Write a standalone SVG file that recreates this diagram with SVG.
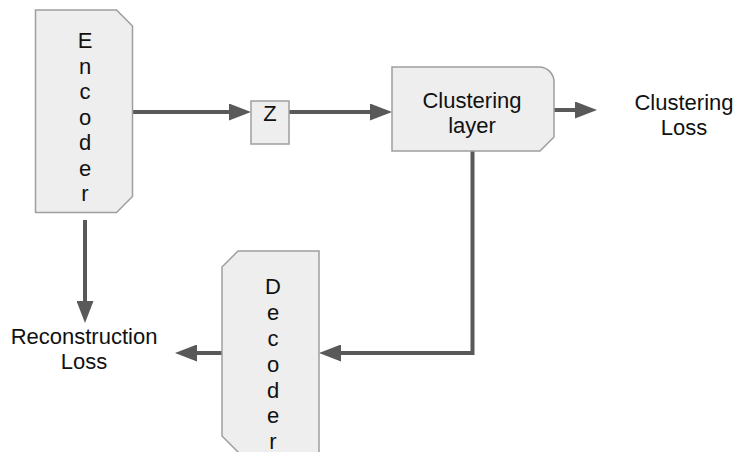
<svg xmlns="http://www.w3.org/2000/svg" width="735" height="452" viewBox="0 0 735 452">
<defs>
<marker id="ah" markerUnits="userSpaceOnUse" markerWidth="22" markerHeight="17" refX="12" refY="8.5" orient="auto">
<path d="M0,0 L22,8.5 L0,17 Z" fill="#595959"/>
</marker>
<style>
.node{fill:#eeeeee;stroke:#9e9e9e;stroke-width:1.5}
.t{font-family:"Liberation Sans",Arial,sans-serif;font-size:22px;fill:#111;text-anchor:middle}
.c{fill:none;stroke:#595959;stroke-width:4;marker-end:url(#ah)}
</style>
</defs>
<rect width="735" height="452" fill="#ffffff"/>
<g id="connectors">
<line class="c" x1="132.5" y1="112" x2="241" y2="112"/>
<line class="c" x1="289" y1="112" x2="382" y2="112"/>
<line class="c" x1="554" y1="110" x2="587" y2="110"/>
<polyline class="c" points="472.5,151 472.5,353 329,353"/>
<line class="c" x1="222" y1="353" x2="185" y2="353"/>
<line class="c" x1="85" y1="220" x2="85" y2="313"/>
</g>
<g id="encoder">
<path class="node" d="M35.5,10 H116.5 L132.5,26 V196.5 L116.5,212.5 H35.5 Z"/>
<text class="t" x="85" y="48">E</text>
<text class="t" x="85" y="73.5">n</text>
<text class="t" x="85" y="99">c</text>
<text class="t" x="85" y="124.5">o</text>
<text class="t" x="85" y="150">d</text>
<text class="t" x="85" y="175.5">e</text>
<text class="t" x="85" y="201">r</text>
</g>
<g id="z">
<rect class="node" x="251" y="101" width="38" height="43"/>
<text class="t" x="270" y="121">Z</text>
</g>
<g id="clustering-layer">
<path class="node" d="M392,67 H539 A15,15 0 0 1 554,82 V137 L540,151 H392 Z"/>
<text class="t" x="472" y="108">Clustering</text>
<text class="t" x="472" y="133">layer</text>
</g>
<g id="clustering-loss">
<text class="t" x="684" y="110">Clustering</text>
<text class="t" x="684" y="135">Loss</text>
</g>
<g id="decoder">
<path class="node" d="M222,267 L238,251 H319 V470 H256 L222,436 Z"/>
<text class="t" x="273" y="294">D</text>
<text class="t" x="273" y="320">e</text>
<text class="t" x="273" y="346">c</text>
<text class="t" x="273" y="371.5">o</text>
<text class="t" x="273" y="397.5">d</text>
<text class="t" x="273" y="423">e</text>
<text class="t" x="273" y="449">r</text>
</g>
<g id="reconstruction-loss">
<text class="t" x="84" y="344">Reconstruction</text>
<text class="t" x="84" y="369">Loss</text>
</g>
</svg>
